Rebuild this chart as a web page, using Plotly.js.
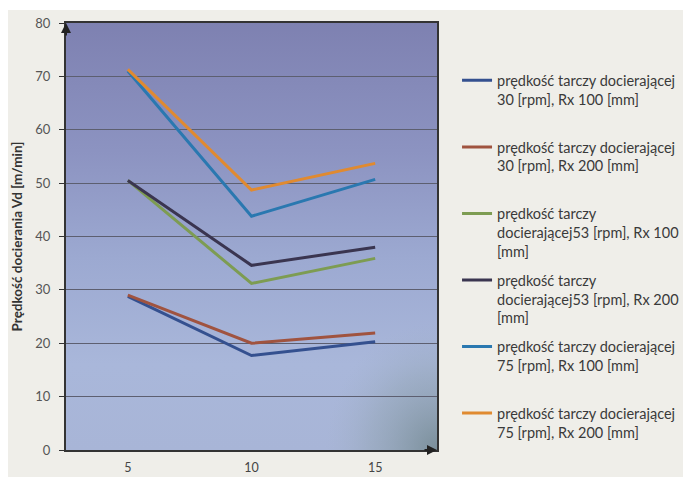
<!DOCTYPE html>
<html>
<head>
<meta charset="utf-8">
<script src="https://cdn.plot.ly/plotly-3.0.1.min.js"></script>
<style>html,body{margin:0;padding:0;background:#fff;}#chart{width:683px;height:477px;}</style>
</head>
<body>
<div id="chart"></div>
<script>
// ---- data ----
const xValues = [5, 10, 15];
const seriesNames = [
  "prędkość tarczy docierającej<br>30 [rpm], Rx 100 [mm]<br>\u00a0",
  "prędkość tarczy docierającej<br>30 [rpm], Rx 200 [mm]<br>\u00a0",
  "prędkość tarczy<br>docierającej53 [rpm], Rx 100<br>[mm]",
  "prędkość tarczy<br>docierającej53 [rpm], Rx 200<br>[mm]",
  "prędkość tarczy docierającej<br>75 [rpm], Rx 100 [mm]<br>\u00a0",
  "prędkość tarczy docierającej<br>75 [rpm], Rx 200 [mm]<br>\u00a0"
];
const s30_100 = [28.8, 17.7, 20.3];
const s30_200 = [29.0, 20.0, 21.9];
const s53_100 = [50.5, 31.2, 35.9];
const s53_200 = [50.5, 34.6, 38.0];
const s75_100 = [71.0, 43.8, 50.7];
const s75_200 = [71.3, 48.7, 53.7];
const seriesValues = [s30_100, s30_200, s53_100, s53_200, s75_100, s75_200];
const seriesColors = ["#34508f", "#a0533f", "#7d9c52", "#3a3550", "#2a78b0", "#e08a30"];
const yTicks = [0, 10, 20, 30, 40, 50, 60, 70, 80];
const xTicks = [5, 10, 15];

const traces = seriesValues.map((v, i) => ({
  type: "scatter", mode: "lines", x: xValues, y: v, name: seriesNames[i],
  legendgroup: "g" + i,
  line: {color: seriesColors[i], width: 3}
}));

const svg = "<svg xmlns='http://www.w3.org/2000/svg' width='371' height='427' preserveAspectRatio='none' viewBox='0 0 371 427'>" +
  "<defs><linearGradient id='g' x1='0' y1='0' x2='0' y2='1'>" +
  "<stop offset='0' stop-color='#7e81b1'/><stop offset='0.3' stop-color='#8c93c1'/>" +
  "<stop offset='0.55' stop-color='#9ca9d1'/><stop offset='0.8' stop-color='#a9b7da'/><stop offset='1' stop-color='#a8b5d7'/></linearGradient>" +
  "<radialGradient id='r' cx='1' cy='1' r='0.3'><stop offset='0' stop-color='#6b8286' stop-opacity='0.75'/><stop offset='0.6' stop-color='#8a9ea6' stop-opacity='0.35'/><stop offset='1' stop-color='#9fb0c4' stop-opacity='0'/></radialGradient></defs>" +
  "<rect width='371' height='427' fill='url(#g)'/><rect width='371' height='427' fill='url(#r)'/></svg>";

const layout = {
  width: 683, height: 477,
  margin: {l: 66, r: 246, t: 23, b: 27, autoexpand: false},
  paper_bgcolor: "#efeee9",
  plot_bgcolor: "#9aa6cf",
  font: {family: "Lato, 'Open Sans', sans-serif", color: "#444"},
  showlegend: true,
  legend: {
    x: 1.054, y: 0.903, xanchor: "left", yanchor: "top",
    bgcolor: "rgba(0,0,0,0)", font: {size: 14.5, color: "#3a3a3a"},
    tracegroupgap: 7, valign: "top", itemwidth: 30
  },
  xaxis: {
    range: [2.5, 17.5], tickvals: xTicks, ticktext: xTicks.map(String),
    showgrid: false, zeroline: false, showline: true, linecolor: "#333", linewidth: 2,
    mirror: true, ticks: "", tickfont: {size: 12.5, color: "#444"}, ticklabelstandoff: 5
  },
  yaxis: {
    range: [0, 80], tickvals: yTicks, showgrid: true, gridcolor: "#5d5f70", gridwidth: 1,
    zeroline: false, showline: true, linecolor: "#333", linewidth: 2, mirror: true,
    ticks: "outside", ticklen: 5, tickcolor: "#333", tickfont: {size: 13, color: "#555"},
    ticklabelstandoff: 6, automargin: true,
    title: {text: "<b>Prędkość docierania Vd [m/min]</b>", font: {size: 13.5, color: "#333"}, standoff: 10}
  },
  images: [{
    source: "data:image/svg+xml," + encodeURIComponent(svg),
    xref: "paper", yref: "paper", x: 0, y: 1, sizex: 1, sizey: 1,
    sizing: "stretch", layer: "below", xanchor: "left", yanchor: "top"
  }],
  shapes: [
    {type: "rect", xref: "paper", yref: "paper", x0: -0.2, x1: 1.7, y0: 1.0304, y1: 1.1, fillcolor: "#ffffff", line: {width: 0}},
    {type: "rect", xref: "paper", yref: "paper", x0: -0.2, x1: -0.1563, y0: -0.1, y1: 1.1, fillcolor: "#ffffff", line: {width: 0}}
  ],
  annotations: [
    {xref: "paper", yref: "paper", x: 0, y: 1, ax: 0, ay: 14, text: "", showarrow: true, arrowhead: 2, arrowsize: 1, arrowwidth: 2, arrowcolor: "#222", standoff: 0},
    {xref: "paper", yref: "paper", x: 1, y: 0, ax: -14, ay: 0, text: "", showarrow: true, arrowhead: 2, arrowsize: 1, arrowwidth: 2, arrowcolor: "#222", standoff: 0}
  ]
};

Plotly.newPlot("chart", traces, layout, {displayModeBar: false, staticPlot: true});
</script>
</body>
</html>
